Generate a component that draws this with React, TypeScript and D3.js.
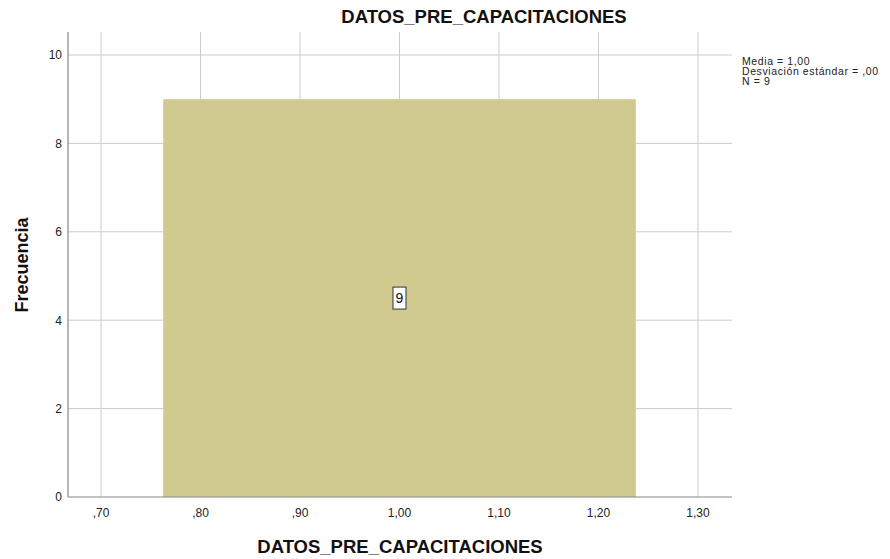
import { useEffect, useRef } from 'react';
import * as d3 from 'd3';

const chartTitle = 'DATOS_PRE_CAPACITACIONES';
const xLabel = 'DATOS_PRE_CAPACITACIONES';
const yLabel = 'Frecuencia';

// histogram bins: [x0, x1, count]
const binStarts = [0.7625];
const binEnds = [1.2375];
const binCounts = [9];

const xTicks = [0.7, 0.8, 0.9, 1.0, 1.1, 1.2, 1.3];
const yTicks = [0, 2, 4, 6, 8, 10];
const statsLines = ['Media = 1,00', 'Desviación estándar = ,00', 'N = 9'];

const fmtX = (v: number) => {
  const s = v.toFixed(2).replace('.', ',');
  return s.startsWith('0') ? s.slice(1) : s;
};

export default function App() {
  const svgRef = useRef<SVGSVGElement>(null);

  useEffect(() => {
    if (!svgRef.current) return;
    const W = 890;
    const H = 559;
    const left = 68;
    const right = 732;
    const top = 32;
    const bottom = 497;
    const font = 'Liberation Sans, Arial, sans-serif';

    const svg = d3.select(svgRef.current);
    svg.selectAll('*').remove();
    svg.attr('width', W).attr('height', H);

    const x = d3.scaleLinear().domain([0.6668, 1.3342]).range([left, right]);
    const y = d3.scaleLinear().domain([0, 10.52]).range([bottom, top]);

    // Grid
    svg.append('g')
      .selectAll('line')
      .data(xTicks)
      .join('line')
      .attr('x1', (d) => x(d)).attr('x2', (d) => x(d))
      .attr('y1', top).attr('y2', bottom)
      .attr('stroke', '#cccccc')
      .attr('stroke-width', 1);

    svg.append('g')
      .selectAll('line')
      .data(yTicks.filter((d) => d > 0))
      .join('line')
      .attr('x1', left).attr('x2', right)
      .attr('y1', (d) => y(d)).attr('y2', (d) => y(d))
      .attr('stroke', '#cccccc')
      .attr('stroke-width', 1);

    // Bars
    const bins = binCounts.map((c, i) => ({ x0: binStarts[i], x1: binEnds[i], count: c }));
    svg.append('g')
      .selectAll('rect')
      .data(bins)
      .join('rect')
      .attr('x', (d) => x(d.x0))
      .attr('y', (d) => y(d.count))
      .attr('width', (d) => x(d.x1) - x(d.x0))
      .attr('height', (d) => y(0) - y(d.count))
      .attr('fill', '#d0ca90');

    // Bar labels
    const lbl = svg.append('g')
      .selectAll('g')
      .data(bins)
      .join('g')
      .attr('transform', (d) => `translate(${x((d.x0 + d.x1) / 2)},${(y(d.count) + y(0)) / 2})`);
    lbl.append('rect')
      .attr('x', -6.5).attr('y', -11)
      .attr('width', 13).attr('height', 22)
      .attr('fill', '#ffffff')
      .attr('stroke', '#333333')
      .attr('stroke-width', 1);
    lbl.append('text')
      .attr('text-anchor', 'middle')
      .attr('dy', '0.36em')
      .attr('font-family', font)
      .attr('font-size', 14)
      .attr('fill', '#111')
      .text((d) => String(d.count));

    // Axes lines
    svg.append('line')
      .attr('x1', left).attr('x2', left).attr('y1', top).attr('y2', bottom)
      .attr('stroke', '#888888').attr('stroke-width', 1.2);
    svg.append('line')
      .attr('x1', left).attr('x2', right).attr('y1', bottom).attr('y2', bottom)
      .attr('stroke', '#888888').attr('stroke-width', 1.2);

    // Tick labels
    svg.append('g')
      .selectAll('text')
      .data(yTicks)
      .join('text')
      .attr('x', left - 6)
      .attr('y', (d) => y(d))
      .attr('dy', '0.36em')
      .attr('text-anchor', 'end')
      .attr('font-family', font)
      .attr('font-size', 12)
      .attr('fill', '#222')
      .text((d) => String(d));

    svg.append('g')
      .selectAll('text')
      .data(xTicks)
      .join('text')
      .attr('x', (d) => x(d))
      .attr('y', bottom + 20)
      .attr('text-anchor', 'middle')
      .attr('font-family', font)
      .attr('font-size', 12)
      .attr('fill', '#222')
      .text((d) => fmtX(d));

    // Titles
    svg.append('text')
      .attr('x', 484).attr('y', 23)
      .attr('text-anchor', 'middle')
      .attr('font-family', font)
      .attr('font-size', 18.5)
      .attr('font-weight', 'bold')
      .attr('fill', '#111')
      .text(chartTitle);

    svg.append('text')
      .attr('x', 400).attr('y', 553)
      .attr('text-anchor', 'middle')
      .attr('font-family', font)
      .attr('font-size', 18.5)
      .attr('font-weight', 'bold')
      .attr('fill', '#111')
      .text(xLabel);

    svg.append('text')
      .attr('transform', `translate(28,265) rotate(-90)`)
      .attr('text-anchor', 'middle')
      .attr('font-family', font)
      .attr('font-size', 18)
      .attr('font-weight', 'bold')
      .attr('fill', '#111')
      .text(yLabel);

    // Stats
    svg.append('g')
      .selectAll('text')
      .data(statsLines)
      .join('text')
      .attr('x', 742)
      .attr('y', (_d, i) => 65 + i * 10)
      .attr('font-family', font)
      .attr('font-size', 10.5)
      .attr('letter-spacing', 0.6)
      .attr('fill', '#222')
      .text((d) => d);
  }, []);

  return (
    <div style={{ position: 'absolute', left: 0, top: 0 }}>
      <svg ref={svgRef} style={{ display: 'block' }} />
    </div>
  );
}
